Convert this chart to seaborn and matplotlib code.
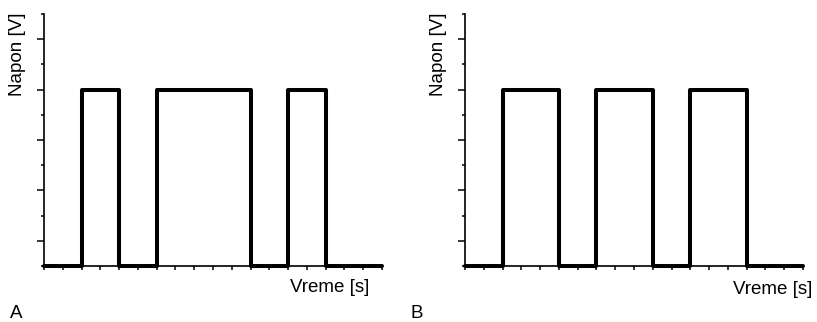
import numpy as np
import pandas as pd
import matplotlib
matplotlib.use("Agg")
import matplotlib.pyplot as plt
from matplotlib.ticker import MultipleLocator, FixedLocator
import seaborn as sns

# Step signal data (time of each edge, level held until the next edge)
time_a = [0, 2, 4, 6, 11, 13, 15, 18]
level_a = [0, 7, 0, 7, 0, 7, 0, 0]
time_b = [0, 2, 5, 7, 10, 12, 15, 18]
level_b = [0, 7, 0, 7, 0, 7, 0, 0]
panel_labels = ["A", "B"]
x_label = "Vreme [s]"
y_label = "Napon [V]"

sns.set_style("ticks")
plt.rcParams["font.family"] = ["Liberation Sans", "DejaVu Sans"]
plt.rcParams["text.color"] = "black"

fig = plt.figure(figsize=(8.17, 3.22), dpi=100)
W, H = 817, 322
boxes = [(44, 382), (465, 803)]
top_px, bot_px = 14, 266

panels = [(time_a, level_a), (time_b, level_b)]
xlabel_pos = [(369, 287), (812, 290)]
ylabel_x = [18, 439]
letter_pos = [(10, 314), (410, 313)]

for i, ((t, v), (x0, x1)) in enumerate(zip(panels, boxes)):
    ax = fig.add_axes([x0 / W, 1 - bot_px / H, (x1 - x0) / W, (bot_px - top_px) / H])
    df = pd.DataFrame({"t": t, "v": v})
    sns.lineplot(data=df, x="t", y="v", ax=ax, color="black", linewidth=2.9,
                 drawstyle="steps-post", sort=False, estimator=None, clip_on=False)
    ax.set_xlim(0, 18)
    ax.set_ylim(0, 10)
    ax.xaxis.set_major_locator(MultipleLocator(1))
    ax.yaxis.set_major_locator(FixedLocator([1, 3, 5, 7, 9]))
    ax.yaxis.set_minor_locator(FixedLocator([0, 2, 4, 6, 8, 10]))
    ax.tick_params(axis="y", which="major", length=5, width=1.1, direction="out", color="black")
    ax.tick_params(axis="y", which="minor", length=2.5, width=1.1, direction="out", color="black")
    ax.tick_params(axis="x", which="major", length=3, width=1.1, direction="out", color="black")
    ax.set_xticklabels([])
    ax.set_yticklabels([], minor=False)
    ax.set_xlabel("")
    ax.set_ylabel("")
    sns.despine(ax=ax)
    for s in ["left", "bottom"]:
        ax.spines[s].set_linewidth(1.2)
        ax.spines[s].set_color("black")
    ax.patch.set_alpha(0)

    fig.text(xlabel_pos[i][0] / W, 1 - xlabel_pos[i][1] / H, x_label,
             ha="right", va="center", fontsize=13.5, color="black")
    fig.text(ylabel_x[i] / W, 1 - 13 / H, y_label, rotation=90,
             ha="center", va="top", fontsize=13.5, color="black")
    fig.text(letter_pos[i][0] / W, 1 - letter_pos[i][1] / H, panel_labels[i],
             ha="left", va="center", fontsize=13.5, color="black")

fig.savefig("out.png", dpi=100)
